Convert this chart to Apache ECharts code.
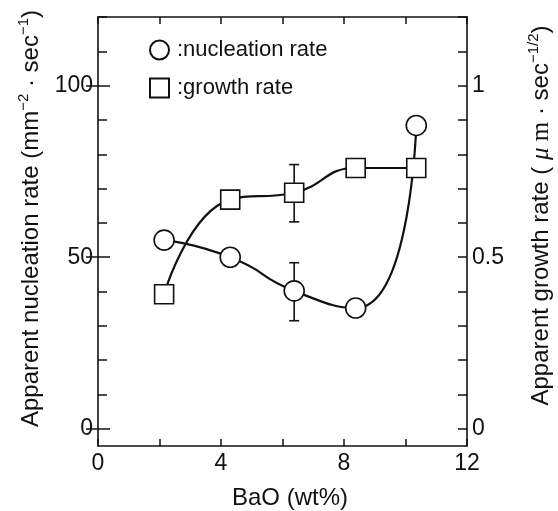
<!DOCTYPE html>
<html>
<head>
<meta charset="utf-8">
<script src="https://cdn.jsdelivr.net/npm/echarts@6/dist/echarts.min.js"></script>
<style>
  html, body { margin: 0; padding: 0; background: #fff; }
  #chart { width: 558px; height: 511px; }
</style>
</head>
<body>
<div id="chart"></div>
<script>
// BaO content (wt%)
const bao = [2.15, 4.3, 6.38, 8.38, 10.35]
// apparent nucleation rate (mm^-2 sec^-1), left axis
const nucleation = [55, 50, 40.2, 35.2, 88.4]
// apparent growth rate (um sec^-1/2), right axis
const growth = [0.392, 0.668, 0.688, 0.76, 0.76]

// error bars: [x, low, high]
const nucleationErr = [[6.38, 31.5, 48.4]]
const growthErr = [[6.38, 0.603, 0.77]]

// ticks and labels
const xTicks = [0, 2, 4, 6, 8, 10, 12]
const xLabels = [0, 4, 8, 12]
const leftTicks = [0, 10, 20, 30, 40, 50, 60, 70, 80, 90, 100, 110, 120]
const leftLabels = [0, 50, 100]
const rightTicks = [0, 0.1, 0.2, 0.3, 0.4, 0.5, 0.6, 0.7, 0.8, 0.9, 1, 1.1, 1.2]
const rightLabels = [0, 0.5, 1]

const FONT = "'Liberation Sans', Arial, Helvetica, sans-serif"
const INK = '#111'

const chart = echarts.init(document.getElementById('chart'))

function errorBar(params, api) {
  const x = api.value(0)
  const lo = api.coord([x, api.value(1)])
  const hi = api.coord([x, api.value(2)])
  const cap = 5
  const style = { stroke: INK, lineWidth: 1.6, fill: null }
  return {
    type: 'group',
    children: [
      { type: 'line', shape: { x1: lo[0], y1: lo[1], x2: hi[0], y2: hi[1] }, style },
      { type: 'line', shape: { x1: lo[0] - cap, y1: lo[1], x2: lo[0] + cap, y2: lo[1] }, style },
      { type: 'line', shape: { x1: hi[0] - cap, y1: hi[1], x2: hi[0] + cap, y2: hi[1] }, style },
    ],
  }
}

const lineAxis = { show: true, onZero: false, lineStyle: { color: INK, width: 1.6 } }

const option = {
  backgroundColor: '#fff',
  animation: false,
  textStyle: { fontFamily: FONT, color: INK },
  grid: { left: 98, right: 91, top: 17, bottom: 65, outerBoundsMode: 'none', containLabel: false },
  legend: {
    orient: 'vertical',
    left: 149,
    top: 39,
    padding: 0,
    itemWidth: 19,
    itemHeight: 19,
    itemGap: 16,
    selectedMode: false,
    formatter: (name) => ':' + name,
    textStyle: { fontFamily: FONT, fontSize: 22, color: INK, padding: [0, 0, 0, 3] },
    data: [
      { name: 'nucleation rate', icon: 'circle' },
      { name: 'growth rate', icon: 'rect' },
    ],
  },
  xAxis: [
    {
      type: 'value',
      position: 'bottom',
      min: 0,
      max: 12,
      interval: 2,
      name: 'BaO (wt%)',
      nameLocation: 'middle',
      nameGap: 40,
      nameTextStyle: { fontFamily: FONT, fontSize: 24, color: INK, padding: [0, 0, 0, 15] },
      axisLine: lineAxis,
      axisTick: { show: true, inside: true, length: 7, customValues: xTicks, lineStyle: { color: INK, width: 1.5 } },
      axisLabel: { show: true, customValues: xLabels, margin: 6, fontFamily: FONT, fontSize: 23, color: INK },
      splitLine: { show: false },
    },
    {
      type: 'value',
      position: 'top',
      min: 0,
      max: 12,
      interval: 2,
      axisLine: lineAxis,
      axisTick: { show: true, inside: true, length: 7, customValues: xTicks, lineStyle: { color: INK, width: 1.5 } },
      axisLabel: { show: false },
      splitLine: { show: false },
    },
  ],
  yAxis: [
    {
      type: 'value',
      position: 'left',
      min: -5,
      max: 120,
      name: '{t|Apparent nucleation rate (mm}{sup|−2}{t| · sec}{sup|−1}{t|)}',
      nameLocation: 'middle',
      nameGap: 47,
      nameTextStyle: {
        padding: [0, 0, 0, 26],
        rich: {
          t: { fontFamily: FONT, fontSize: 24, color: INK, lineHeight: 30 },
          sup: { fontFamily: FONT, fontSize: 15, color: INK, lineHeight: 15, verticalAlign: 'top' },
        },
      },
      axisLine: lineAxis,
      axisTick: { show: true, inside: true, length: 9, customValues: leftTicks, lineStyle: { color: INK, width: 1.5 } },
      axisLabel: { show: true, customValues: leftLabels, margin: 5, fontFamily: FONT, fontSize: 23, color: INK },
      splitLine: { show: false },
    },
    {
      type: 'value',
      position: 'right',
      min: -0.05,
      max: 1.2,
      name: '{t|Apparent growth rate ( }{mu|μ}{m| m}{t| · sec}{sup|−1/2}{t|)}',
      nameLocation: 'middle',
      nameGap: 59,
      nameTextStyle: {
        padding: [0, 0, 0, 32],
        rich: {
          t: { fontFamily: FONT, fontSize: 24, color: INK, lineHeight: 30 },
          mu: { fontFamily: "'Liberation Serif', serif", fontStyle: 'italic', fontSize: 25, color: INK, lineHeight: 30 },
          m: { fontFamily: "'Liberation Serif', serif", fontSize: 25, color: INK, lineHeight: 30 },
          sup: { fontFamily: FONT, fontSize: 15, color: INK, lineHeight: 15, verticalAlign: 'top' },
        },
      },
      axisLine: lineAxis,
      axisTick: { show: true, inside: true, length: 9, customValues: rightTicks, lineStyle: { color: INK, width: 1.5 } },
      axisLabel: { show: true, customValues: rightLabels, margin: 5, fontFamily: FONT, fontSize: 23, color: INK },
      splitLine: { show: false },
    },
    // longer ticks at the labelled values
    {
      type: 'value',
      position: 'left',
      min: -5,
      max: 120,
      axisLine: { show: false },
      axisTick: { show: true, inside: true, length: 12, customValues: leftLabels, lineStyle: { color: INK, width: 1.5 } },
      axisLabel: { show: false },
      splitLine: { show: false },
    },
    {
      type: 'value',
      position: 'right',
      min: -0.05,
      max: 1.2,
      axisLine: { show: false },
      axisTick: { show: true, inside: true, length: 12, customValues: rightLabels, lineStyle: { color: INK, width: 1.5 } },
      axisLabel: { show: false },
      splitLine: { show: false },
    },
  ],
  series: [
    {
      type: 'custom',
      name: 'nucleation error',
      xAxisIndex: 0,
      yAxisIndex: 0,
      renderItem: errorBar,
      data: nucleationErr,
      z: 1,
      silent: true,
    },
    {
      type: 'custom',
      name: 'growth error',
      xAxisIndex: 0,
      yAxisIndex: 1,
      renderItem: errorBar,
      data: growthErr,
      z: 1,
      silent: true,
    },
    {
      name: 'growth rate',
      type: 'line',
      xAxisIndex: 0,
      yAxisIndex: 1,
      data: bao.map((x, i) => [x, growth[i]]),
      smooth: 0.5,
      symbol: 'rect',
      symbolSize: 19,
      showAllSymbol: true,
      lineStyle: { color: INK, width: 2.2 },
      itemStyle: { color: '#fff', borderColor: INK, borderWidth: 1.6 },
      z: 3,
    },
    {
      name: 'nucleation rate',
      type: 'line',
      xAxisIndex: 0,
      yAxisIndex: 0,
      data: bao.map((x, i) => [x, nucleation[i]]),
      smooth: 0.6,
      symbol: 'circle',
      symbolSize: 20,
      showAllSymbol: true,
      lineStyle: { color: INK, width: 2.2 },
      itemStyle: { color: '#fff', borderColor: INK, borderWidth: 1.6 },
      z: 2,
    },
  ],
}

chart.setOption(option)
</script>
</body>
</html>
